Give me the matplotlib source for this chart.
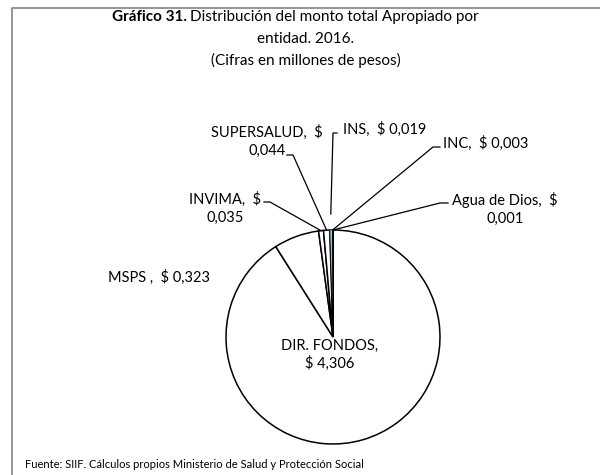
import matplotlib.pyplot as plt
import numpy as np

plt.rcParams['font.family'] = ['Lato', 'DejaVu Sans']

entidades = ['DIR. FONDOS', 'MSPS', 'INVIMA', 'SUPERSALUD', 'INS', 'INC', 'Agua de Dios']
montos = [4.306, 0.323, 0.035, 0.044, 0.019, 0.003, 0.001]
colores = ['white', 'white', 'white', 'white', '#8cc4dc', 'white', 'white']
separar = [0, 0, 0, 0, 0.15, 0, 0]

H = 475.0


def py(y):
    # pixel row -> data y
    return H - y


def fmt(v):
    return ('%.3f' % v).replace('.', ',')


fig = plt.figure(figsize=(6, 4.75), dpi=100)
ax = fig.add_axes([0, 0, 1, 1])
ax.set_xlim(0, 600)
ax.set_ylim(0, H)
ax.axis('off')

# marco gris
ax.plot([12, 12, 600], [0, py(8), py(8)], color='#8c8c8c', lw=1.3)

cx, cy, r = 333, py(337), 107
wedges, _ = ax.pie(montos, colors=colores, startangle=90, counterclock=False,
                   center=(cx, cy), radius=r, explode=separar,
                   wedgeprops=dict(edgecolor='black', linewidth=1.1))
wedges[4].set_linewidth(0.6)
wedges[4].set_zorder(3)
ax.set_xlim(0, 600)
ax.set_ylim(0, H)


def punto(i):
    w = wedges[i]
    t = np.deg2rad((w.theta1 + w.theta2) / 2)
    rr = r * (1 + separar[i])
    return cx + rr * np.cos(t), cy + rr * np.sin(t)


fs = 10.5
# etiquetas
ax.text(330, py(355), 'DIR. FONDOS,\n$ ' + fmt(montos[0]), ha='center', va='center',
        fontsize=fs, linespacing=1.3)
ax.text(159, py(277), 'MSPS ,  $ ' + fmt(montos[1]), ha='center', va='center', fontsize=fs)
ax.text(225, py(208), 'INVIMA,  $\n' + fmt(montos[2]), ha='center', va='center',
        fontsize=fs, linespacing=1.35)
ax.text(267, py(141), 'SUPERSALUD,  $\n' + fmt(montos[3]), ha='center', va='center',
        fontsize=fs, linespacing=1.35)
ax.text(343, py(129), 'INS,  $ ' + fmt(montos[4]), ha='left', va='center', fontsize=fs)
ax.text(443, py(143), 'INC,  $ ' + fmt(montos[5]), ha='left', va='center', fontsize=fs)
ax.text(505, py(209), 'Agua de Dios,  $\n' + fmt(montos[6]), ha='center', va='center',
        fontsize=fs, linespacing=1.35)

# lineas guia: (x inicio, x codo, y)
guias = {2: (264, 270, 202), 3: (287, 293, 155), 4: (337, 333, 133),
         5: (440, 433, 147), 6: (448, 440, 203)}
for i, (x0, x1, y) in guias.items():
    px, pyy = punto(i)
    ax.plot([x0, x1, px], [py(y), py(y), pyy], color='black', lw=0.9)

# titulo
ax.text(187, py(17), 'Gráfico 31.', ha='right', va='center', fontsize=11, fontweight='bold')
ax.text(190, py(17), 'Distribución del monto total Apropiado por', ha='left', va='center',
        fontsize=11)
ax.text(306, py(39), 'entidad. 2016.', ha='center', va='center', fontsize=11)
ax.text(306, py(60), '(Cifras en millones de pesos)', ha='center', va='center', fontsize=11)

ax.text(25, py(465), 'Fuente: SIIF. Cálculos propios Ministerio de Salud y Protección Social',
        ha='left', va='center', fontsize=8)

fig.savefig('out.png', dpi=100)
